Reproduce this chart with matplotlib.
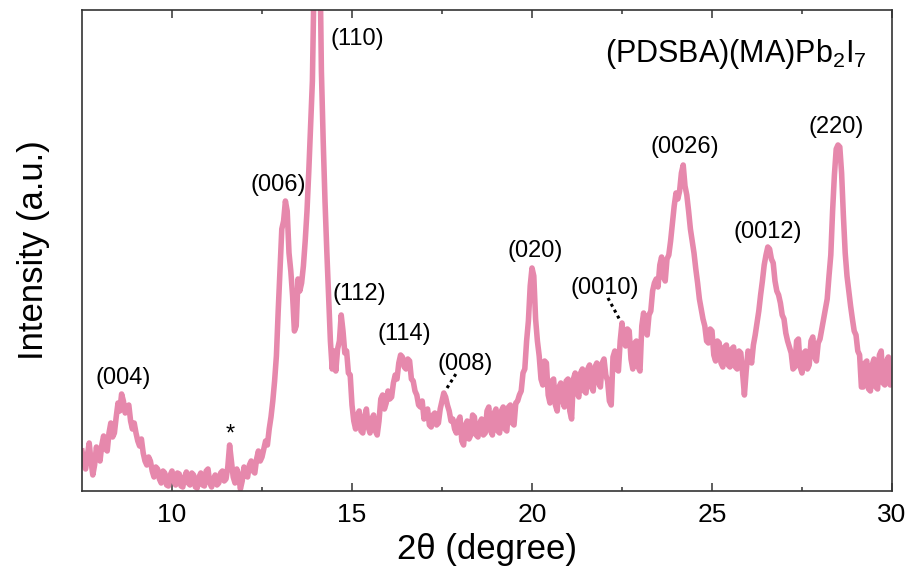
import numpy as np
import matplotlib
matplotlib.use('Agg')
import matplotlib.pyplot as plt

plt.rcParams['font.family'] = ['Liberation Sans', 'DejaVu Sans']
plt.rcParams['mathtext.fontset'] = 'custom'
plt.rcParams['mathtext.rm'] = 'Liberation Sans'
plt.rcParams['mathtext.it'] = 'Liberation Sans:italic'

# XRD scan, 2theta grid (0.05 deg step)
tth = np.linspace(7.5, 30.0, 451)
intensity = [
    40, 28, 22, 36, 48, 30, 16, 26, 44, 36,            # 7.50
    30, 46, 55, 42, 40, 58, 68, 54, 58, 74,            # 8.00
    88, 80, 97, 90, 78, 84, 86, 70, 62, 68,            # 8.50
    58, 50, 45, 52, 38, 30, 26, 34, 30, 20,            # 9.00
    14, 24, 22, 12, 8, 20, 18, 6, 5, 16,               # 9.50
    20, 10, 6, 18, 17, 5, 4, 14, 19, 8,                # 10.00
    6, 18, 16, 4, 3, 14, 18, 6, 5, 20,                 # 10.50
    22, 8, 4, 12, 16, 6, 8, 18, 20, 10,                # 11.00
    12, 24, 46, 30, 14, 8, 22, 16, 2, 10,              # 11.50
    24, 16, 14, 26, 30, 20, 18, 32, 40, 30,            # 12.00
    34, 42, 50, 46, 62, 74, 90, 110, 135, 180,         # 12.50
    222, 262, 270, 290, 280, 238, 220, 195, 160, 165,  # 13.00
    212, 200, 208, 225, 250, 280, 320, 365, 410, 520,  # 13.50
    620, 640, 560, 420, 350, 290, 240, 195, 150, 122,  # 14.00
    140, 120, 142, 150, 176, 160, 138, 140, 118, 116,  # 14.50
    86, 70, 62, 76, 80, 60, 58, 74, 82, 64,            # 15.00
    58, 72, 76, 60, 56, 70, 92, 96, 82, 88,            # 15.50
    100, 92, 94, 108, 116, 112, 128, 136, 134, 124,    # 16.00
    122, 132, 130, 112, 110, 100, 96, 86, 84, 90,      # 16.50
    72, 80, 82, 66, 64, 76, 78, 66, 68, 82,            # 17.00
    90, 98, 94, 86, 80, 70, 72, 62, 58, 70,            # 17.50
    74, 50, 46, 66, 70, 52, 56, 76, 74, 56,            # 18.00
    54, 68, 72, 56, 58, 80, 84, 60, 56, 78,            # 18.50
    82, 60, 58, 80, 84, 62, 60, 84, 86, 68,            # 19.00
    66, 88, 90, 96, 100, 118, 122, 150, 170, 205,      # 19.50
    223, 215, 172, 150, 135, 112, 106, 130, 128, 96,   # 20.00
    88, 110, 112, 86, 80, 104, 108, 90, 84, 110,       # 20.50
    112, 80, 72, 112, 118, 98, 94, 118, 122, 100,      # 21.00
    98, 122, 126, 104, 100, 124, 128, 108, 104, 128,   # 21.50
    132, 116, 110, 90, 86, 134, 140, 122, 120, 150,    # 22.00
    168, 150, 145, 162, 160, 132, 122, 148, 150, 124,  # 22.50
    120, 165, 178, 160, 156, 176, 180, 200, 208, 212,  # 23.00
    204, 226, 234, 214, 210, 232, 236, 250, 268, 285,  # 23.50
    298, 292, 300, 318, 326, 305, 296, 280, 262, 250,  # 24.00
    238, 222, 208, 192, 182, 172, 165, 150, 148, 162,  # 24.50
    160, 136, 130, 150, 148, 128, 124, 144, 146, 126,  # 25.00
    124, 142, 144, 124, 122, 140, 138, 118, 96, 120,   # 25.50
    140, 136, 128, 146, 156, 168, 180, 196, 210, 226,  # 26.00
    236, 244, 242, 232, 228, 210, 200, 196, 188, 176,  # 26.50
    172, 158, 150, 144, 138, 122, 124, 150, 152, 124,  # 27.00
    118, 138, 140, 122, 126, 150, 154, 134, 130, 148,  # 27.50
    152, 162, 172, 182, 192, 215, 236, 280, 316, 342,  # 28.00
    346, 344, 318, 275, 238, 215, 200, 185, 172, 160,  # 28.50
    156, 140, 136, 104, 104, 128, 130, 102, 100, 126,  # 29.00
    132, 104, 102, 136, 140, 108, 106, 130, 134, 106,  # 29.50
    110,                                               # 30.00
]

# reflection labels and where they sit (2theta, a.u.)
peak_names = ['(004)', '(006)', '(110)', '(112)', '(114)', '(008)',
              '(020)', '(0010)', '(0026)', '(0012)', '(220)']
label_x = [8.65, 12.94, 15.14, 15.19, 16.46, 18.14,
           20.08, 22.03, 24.25, 26.56, 28.44]
label_y = [113, 306, 452, 197, 157, 127,
           240, 203, 344, 259, 364]

fig = plt.figure(figsize=(9.2, 5.86), dpi=100)
ax = fig.add_axes([82 / 920, 95 / 586, 810 / 920, 481 / 586])

ax.plot(tth, intensity, color='#E688AC', lw=4.0, solid_joinstyle='round')

ax.set_xlim(7.5, 30)
ax.set_ylim(0, 481)
ax.set_yticks([])
ax.set_xticks([10, 15, 20, 25, 30])
ax.set_xticks([12.5, 17.5, 22.5, 27.5], minor=True)
ax.tick_params(axis='x', which='both', direction='in', top=True,
               labelsize=19, pad=9, width=1.1, color='#333333')
ax.tick_params(axis='x', which='major', length=6)
ax.tick_params(axis='x', which='minor', length=3)
for s in ax.spines.values():
    s.set_linewidth(1.2)
    s.set_color('#333333')

ax.set_xlabel('2θ (degree)', fontsize=25)
ax.xaxis.set_label_coords(0.5, -0.088)
ax.set_ylabel('Intensity (a.u.)', fontsize=25)
ax.yaxis.set_label_coords(-0.04, 0.5)

for name, lx, ly in zip(peak_names, label_x, label_y):
    ax.text(lx, ly, name, fontsize=17, ha='center', va='center')

# impurity marker
ax.text(11.61, 56, '*', fontsize=17, ha='center', va='center')

# dotted leaders for the weak reflections
ax.plot([17.64, 17.92], [103, 119], color='black', lw=2.2, ls=(0, (1, 1.2)))
ax.plot([22.11, 22.44], [193, 171], color='black', lw=2.2, ls=(0, (1, 1.2)))

ax.text(0.969, 0.892, r'(PDSBA)(MA)Pb$_2$I$_7$', transform=ax.transAxes,
        fontsize=22, ha='right', va='baseline')

fig.savefig('out.png', dpi=100)
